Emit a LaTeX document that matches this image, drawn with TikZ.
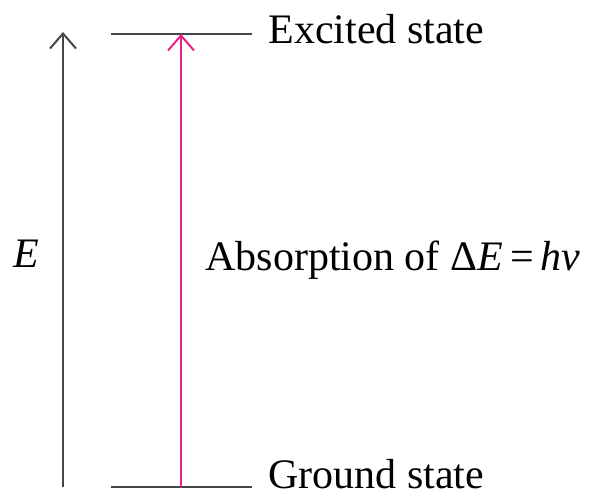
\documentclass[tikz,border=0pt]{standalone}
\usepackage{fontspec}
\setmainfont{Liberation Serif}
\usetikzlibrary{arrows.meta,positioning}
\definecolor{photon}{RGB}{236,30,140}
\definecolor{level}{RGB}{70,70,70}

\begin{document}
\begin{tikzpicture}[
        x=0.5pt, y=-0.5pt,
        every node/.style={font=\fontsize{21}{25}\selectfont, inner sep=0pt},
        levelline/.style={draw=level, line width=1pt},
        axis/.style={draw=level, line width=1pt,
            -{Straight Barb[length=7.5pt, width=13pt, line width=1pt]}},
        absorb/.style={draw=photon, line width=1pt,
            -{Straight Barb[length=7.5pt, width=13pt, line width=1pt]}},
    ]
        \useasboundingbox (0,0) rectangle (592,497);

        % Energy levels
        \coordinate (exc-l) at (111,34);
        \coordinate (exc-r) at (252,34);
        \coordinate (exc-m) at (181,34);
        \coordinate (gnd-l) at (111,487);
        \coordinate (gnd-r) at (252,487);
        \coordinate (gnd-m) at (181,487);
        \draw[levelline] (exc-l) -- (exc-r);
        \draw[levelline] (gnd-l) -- (gnd-r);
        \node[anchor=base west] (exclabel) at (268,44) {Excited state};
        \node[anchor=base west] (gndlabel) at (268,488) {Ground state};

        % Energy axis
        \coordinate (axis-bot) at (63,487);
        \coordinate (axis-top) at (63,32);
        \draw[axis] (axis-bot) -- (axis-top);
        \node[anchor=base west] (elabel) at (13,267) {\textit{E}};

        % Absorption
        \draw[absorb] (gnd-m) -- (exc-m);
        \node[anchor=base west] (abslabel) at (205,270)
            {Absorption of Δ\textit{E}\,=\,\textit{hν}};
    \end{tikzpicture}
\end{document}
